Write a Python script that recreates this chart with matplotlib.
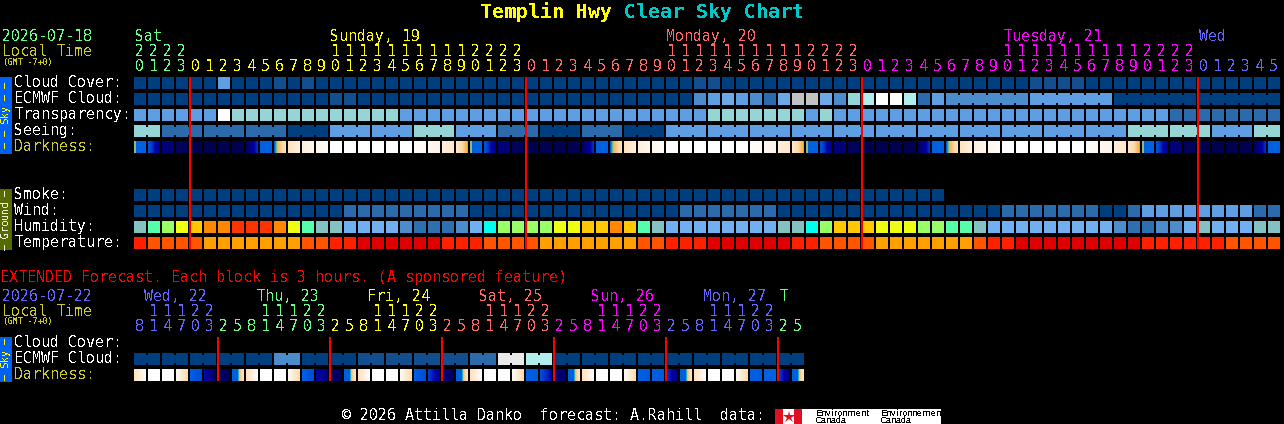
import matplotlib
matplotlib.use("Agg")
import matplotlib.pyplot as plt
import numpy as np
from matplotlib.colors import LinearSegmentedColormap

plt.rcParams['font.family'] = ['DejaVu Sans Mono']
plt.rcParams['text.antialiased'] = False
plt.rcParams['text.hinting'] = 'force_autohint'
plt.rcParams['text.hinting_factor'] = 1

# ---------- data ----------
BLUE = dict(a='#003F7F', b='#134F8E', c='#2B6BAB', d='#4C8CCC', e='#5E9EE2', f='#6CA9E6',
            t='#95D5D5', w='#FFFFFF', g='#C2C2C2', h='#E9E9E9', i='#B0EEEE')
HUM = dict(t='#84C1C1', G='#55FFAA', L='#99FF66', Y='#EEFF11', A='#FFC800', O='#FF8800', R='#FF3300',
           C='#00FFEE', S='#70B0F0', M='#4A8CCC', D='#2E6FAF')
TEMP = dict(r='#FF2000', d='#E00000', o='#FF5500', y='#FFA000')

cloud = ("aaaaaaeaaa" "babaaaaaaa" "aaaaaaaaaa" "aaaaaaaaaa" "bbaaaaaaaa"
         "aaaaaaaaaa" "aaaabbbbaa" "aaaaaaaaaa" "aa")
ecmwf = ("aaaaaaaaaa" "aaaabbaaaa" "aaaaaaaaaa" "aaaaaaaaaa" "defedcfggf"
         "dtiwwicedd" "ddddeeeeee" "aaaaaaaaaa" "aa")
transparency = ("eeeeeewttt" "ttttttttte" "eeeeeeeeee" "eeeeeeeeee" "etttttttet"
                "eeeeeeeeee" "eeeeeeeeee" "eeeecccccc" "cc")
seeing = ("ttcccccccc" "caaaeeeeee" "ttteeeccca" "aacccaaaee" "eeeeeeeeee"
          "eeeeeeeeee" "eeeeeeeeee" "etttttteee" "tt")
smoke = ("aaaaaaaaaa" "aaaaaaaaaa" "aaaaaaaaaa" "aaaaaaaaaa" "aaaaaaaaaa" "aaaaaaaa")
wind = ("aaaaaaaaaa" "aaaaaccccc" "ccccaaaaaa" "aaaaaaaaac" "ccccccaaaa"
        "aaaaaaaaaa" "aaccccccca" "aceeeeeeee" "cc")
humidity = ("tGLYAOORRR" "OYGttSSSSM" "DDDMSCLLLL" "YYAAOAGtSS" "SSSSSSttCL"
            "AAAYYYLLGG" "tSSSSSSSSS" "MDDMMStSSS" "tt")
temperature = ("rooooyyyyy" "yyoorrdddd" "ddrrrooooy" "yyyyyyoorr" "rddddddrro"
               "oooyyyyyyy" "orrddddddd" "ddrrrrrroo" "oo")

dark_left = [.46,.36,.1,.03,0,0,0,0,.02,.4,
             .4,.72,.85,.92,1,1,1,1,1,1,
             .97,.92,.85,.75,.46,.36,.1,.03,0,0,
             0,0,.02,.4,.4,.72,.85,.92,1,1,
             1,1,1,1,.97,.92,.85,.75,.46,.36,
             .1,.03,0,0,0,0,.02,.4,.4,.72,
             .85,.92,1,1,1,1,1,1,.97,.92,
             .85,.75,.46,.36,.1,.03,0,0,0,0,
             .02,.4]
dark_right = [.4,.12,.08,.03,0,0,0,0,.28,.4,
              .68,.88,.92,.98,1,1,1,1,1,1,
              .95,.9,.8,.46,.4,.12,.08,.03,0,0,
              0,0,.28,.4,.68,.88,.92,.98,1,1,
              1,1,1,1,.95,.9,.8,.46,.4,.12,
              .08,.03,0,0,0,0,.28,.4,.68,.88,
              .92,.98,1,1,1,1,1,1,.95,.9,
              .8,.46,.4,.12,.08,.03,0,0,0,0,
              .28,.4]

ext_ecmwf = "aaaaadaabbbbchiaaaaaaaaa"  # one letter per 6-hour pair
ext_dark_left = [.72,1,1,.95,.4,.22,.03,.4,
                 .72,1,1,.95,.4,.2,.04,.4,
                 .72,1,1,.95,.4,.3,.1,.4,
                 .72,1,1,.95,.4,.34,.1,.4,
                 .72,1,1,.95,.4,.4,.3,.4,
                 .72,1,1,.95,.4,.4,.32,.4]
ext_dark_right = [.98,1,1,.65,.34,.03,.03,.72,
                  .98,1,1,.65,.34,.1,.04,.72,
                  .98,1,1,.65,.34,.15,.03,.72,
                  .98,1,1,.65,.38,.2,.05,.72,
                  .98,1,1,.65,.38,.38,.1,.72,
                  .98,1,1,.65,.38,.4,.1,.72]
# blocks where the sky stays at one level for part of the block
main_hold = [0, 24, 48, 72]
ext_hold = [7, 15, 23, 31, 39, 47]

GREEN, YEL, PINK, MAG, VIO = '#66FF88', '#FFFF00', '#FF6666', '#FF00FF', '#6666FF'
OLIVE = '#CCCC22'

hours = [20,21,22,23] + list(range(24)) * 3 + [0,1,2,3,4,5]
hour_colors = [GREEN]*4 + [YEL]*24 + [PINK]*24 + [MAG]*24 + [VIO]*6
ext_hours = [8,11,14,17,20,23] + [2,5,8,11,14,17,20,23]*5 + [2,5]
ext_colors = [VIO]*6 + [GREEN]*8 + [YEL]*8 + [PINK]*8 + [MAG]*8 + [VIO]*8 + [GREEN]*2

day_labels = [("Sat",135,GREEN),("Sunday, 19",330,YEL),("Monday, 20",666,PINK),
              ("Tuesday, 21",1003,MAG),("Wed",1199,VIO)]
ext_day_labels = [("Wed, 22",144,VIO),("Thu, 23",256,GREEN),("Fri, 24",367,YEL),
                  ("Sat, 25",479,PINK),("Sun, 26",591,MAG),("Mon, 27",703,VIO),("T",779,GREEN)]

# ---------- layout ----------
X0, PITCH, BW = 134, 14, 12
FS = 14.95 * 0.72

fig = plt.figure(figsize=(12.84, 4.24), dpi=100, facecolor='black')
ax = fig.add_axes([0, 0, 1, 1], facecolor='black')
ax.set_axis_off()

def rect(x, y, w, h, color, z=2):
    ax.bar(x, h, width=w, bottom=y, align='edge', color=color, linewidth=0, antialiased=False, zorder=z)

def txt(x, y, s, color='white', fs=FS, **kw):
    ax.text(x, y, s, color=color, fontsize=fs, ha=kw.pop('ha', 'left'), va=kw.pop('va', 'baseline'), **kw)

def row(y, codes, palette, groups=None):
    for i, k in enumerate(codes):
        rect(X0 + PITCH*i, y, BW, BW, palette[k])
    for a, b in (groups or []):
        for i in range(a, b):
            rect(X0 + PITCH*i + BW, y + 2, PITCH - BW, BW - 4, palette[codes[i]])

cmap = LinearSegmentedColormap.from_list('dark', [
    (0.00,'#000050'),(0.10,'#000080'),(0.20,'#0000A8'),(0.30,'#0040D0'),(0.40,'#0060E0'),
    (0.43,'#00A0E8'),(0.45,'#60C090'),(0.48,'#FFB050'),(0.60,'#FFD8A8'),(0.80,'#FFE8CC'),
    (0.90,'#FFF4E8'),(1.00,'#FFFFFF')])

def dark_row(y, left, right, hold=(), hold_px=6):
    for i, (l, r) in enumerate(zip(left, right)):
        if i in hold:
            grad = np.r_[np.full(hold_px, l), np.linspace(.44, r, BW - hold_px)] if l <= r else \
                   np.r_[np.full(hold_px, l), np.full(BW - hold_px, r)]
        else:
            grad = np.linspace(l, r, BW)
        ax.imshow(grad[None, :], cmap=cmap, vmin=0, vmax=1, aspect='auto', interpolation='nearest',
                  extent=(X0+PITCH*i, X0+PITCH*i+BW, y+BW, y), zorder=2)

# ---------- title ----------
txt(480, 18, "Templin Hwy", '#FFFF00', 14.4, fontweight='bold')
txt(624, 18, "Clear Sky Chart", '#00C8C8', 14.4, fontweight='bold')

# ---------- main header ----------
txt(2, 41, "2026-07-18", GREEN)
txt(2, 56, "Local Time", OLIVE)
txt(3, 65, "(GMT -7+0)", OLIVE, 5.8)
for s, x, c in day_labels:
    txt(x, 41, s, c)
for i, (h, c) in enumerate(zip(hours, hour_colors)):
    xc = X0 + PITCH*i + 5.5
    if h >= 10:
        txt(xc, 56, str(h//10), c, ha='center')
    txt(xc, 71, str(h % 10), c, ha='center')

# ---------- labels ----------
for y, s, c in [(87,"Cloud Cover:",'white'),(103,"ECMWF Cloud:",'white'),(119,"Transparency:",'white'),
                (135,"Seeing:",'white'),(151,"Darkness:",OLIVE),(199,"Smoke:",'white'),(215,"Wind:",'white'),
                (231,"Humidity:",'white'),(247,"Temperature:",'white'),(347,"Cloud Cover:",'white'),
                (363,"ECMWF Cloud:",'white'),(379,"Darkness:",OLIVE)]:
    txt(14, y, s, c)

# ---------- side bars ----------
rect(0, 77, 12, 77, '#0060F0')
rect(0, 189, 12, 61, '#556B00')
rect(0, 337, 12, 45, '#0060F0')
txt(6, 115.5, "\u2500 \u2500 Sky \u2500 \u2500", YEL, 7.2, rotation=90, ha='center', va='center')
txt(6, 219.5, "\u2500 Ground \u2500", '#F0F0E0', 7.2, rotation=90, ha='center', va='center')
txt(6, 359.5, "\u2500 Sky \u2500", YEL, 7.2, rotation=90, ha='center', va='center')

# ---------- main rows ----------
see_groups = [(0, 1)] + [(a, a+2) for a in range(2, 80, 3)] + [(80, 81)]
ec_groups = [(58, 63), (64, 69), (70, 75), (76, 81)]
row(77, cloud, BLUE)
row(93, ecmwf, BLUE, ec_groups)
row(109, transparency, BLUE)
row(125, seeing, BLUE, see_groups)
dark_row(141, dark_left, dark_right, main_hold, 2)
row(189, smoke, BLUE)
row(205, wind, BLUE)
row(221, humidity, HUM)
row(237, temperature, TEMP)
for x in (189, 525, 861, 1197):
    rect(x, 77, 2, 172, '#FF0000', z=5)

# ---------- extended ----------
txt(0, 282, "EXTENDED Forecast. Each block is 3 hours. (A sponsored feature)", '#FF0000')
txt(2, 301, "2026-07-22", VIO)
txt(2, 316, "Local Time", OLIVE)
txt(3, 324, "(GMT -7+0)", OLIVE, 5.8)
for s, x, c in ext_day_labels:
    txt(x, 301, s, c)
for i, (h, c) in enumerate(zip(ext_hours, ext_colors)):
    xc = X0 + PITCH*i + 5.5
    if h >= 10:
        txt(xc, 316, str(h//10), c, ha='center')
    txt(xc, 331, str(h % 10), c, ha='center')
ext_codes = "".join(k*2 for k in ext_ecmwf)
row(353, ext_codes, BLUE, [(a, a+1) for a in range(0, 48, 2)])
dark_row(369, ext_dark_left, ext_dark_right, ext_hold, 6)
for x in (217, 329, 441, 553, 665, 777):
    rect(x, 337, 2, 44, '#FF0000', z=5)

# ---------- footer ----------
txt(342, 420, "\u00a9 2026 Attilla Danko  forecast: A.Rahill  data:", 'white')
rect(775, 409, 166, 15, 'white')
rect(775, 409, 8, 15, '#E01020', z=3)
rect(794, 409, 8, 15, '#E01020', z=3)
ax.plot([788.5], [416.5], marker='*', ms=9, color='#E01020', mew=0, zorder=4, antialiased=False)
for x, a, b in [(816, "Environment", "Canada"), (881, "Environnement", "Canada")]:
    txt(x, 416, a, 'black', 6.6, family='Liberation Sans')
    txt(x, 423, b, 'black', 6.6, family='Liberation Sans')

ax.set_xlim(0, 1284)
ax.set_ylim(424, 0)
fig.savefig("out.png", dpi=100, facecolor='black')
